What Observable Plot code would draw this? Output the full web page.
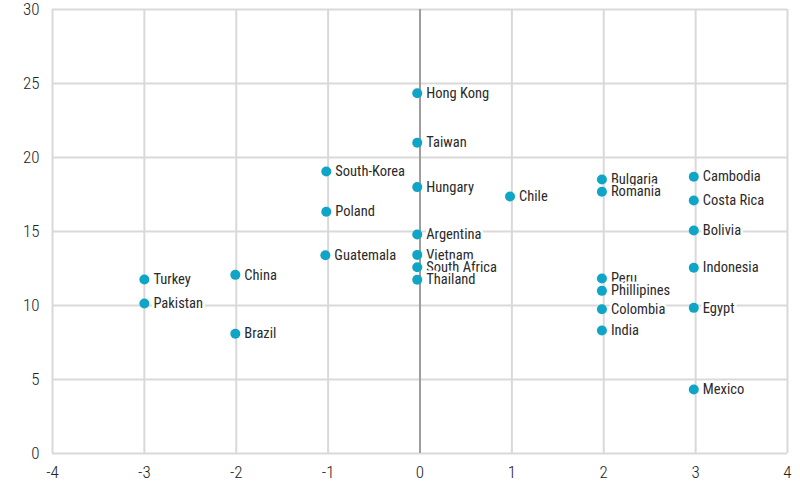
<!DOCTYPE html>
<html>
<head>
<meta charset="utf-8">
<script src="https://cdn.jsdelivr.net/npm/d3@7"></script>
<script src="https://cdn.jsdelivr.net/npm/@observablehq/plot@0.6"></script>
<style>
  html, body { margin: 0; padding: 0; background: #fff; }
  #chart svg { display: block; }
</style>
</head>
<body>
<div id="chart"></div>
<script>
const countries = ["Hong Kong","Taiwan","South-Korea","Hungary","Chile","Bulgaria","Romania","Cambodia","Costa Rica","Poland","Argentina","Bolivia","Guatemala","Vietnam","South Africa","Thailand","Turkey","China","Pakistan","Brazil","Peru","Phillipines","Colombia","India","Indonesia","Egypt","Mexico"];
const xValues = [-0.03,-0.03,-1.02,-0.03,0.98,1.98,1.98,2.98,2.98,-1.02,-0.03,2.98,-1.03,-0.03,-0.03,-0.03,-3,-2.01,-3,-2.01,1.98,1.98,1.98,1.98,2.98,2.98,2.98];
const yValues = [24.34,21.0,19.05,18.0,17.36,18.51,17.68,18.7,17.1,16.33,14.8,15.07,13.4,13.42,12.59,11.74,11.76,12.07,10.14,8.09,11.82,10.99,9.75,8.31,12.55,9.84,4.32];
const xTicks = [-4,-3,-2,-1,0,1,2,3,4];
const xTickLabels = ["-4","-3","-2","-1","0","1","2","3","4"];
const yTicks = [0,5,10,15,20,25,30];
const yTickLabels = ["0","5","10","15","20","25","30"];

const data = countries.map((c, i) => ({name: c, x: xValues[i], y: yValues[i]}));

const font = "'Roboto Condensed', 'Liberation Sans Narrow', Roboto, sans-serif";
const grid = "#d9d9d9";
const dotColor = "#0ea5c6";

const chart = Plot.plot({
  width: 800,
  height: 490,
  marginLeft: 52,
  marginRight: 13,
  marginTop: 9,
  marginBottom: 37,
  style: {fontFamily: font, background: "#fff"},
  x: {domain: [-4, 4]},
  y: {domain: [0, 30]},
  marks: [
    Plot.gridX(xTicks, {stroke: grid, strokeOpacity: 1, strokeWidth: 2}),
    Plot.gridY(yTicks, {stroke: grid, strokeOpacity: 1, strokeWidth: 2}),
    Plot.ruleX([0], {stroke: "#8a8a8a", strokeWidth: 1.5}),
    Plot.axisX({ticks: xTicks, tickFormat: d => xTickLabels[xTicks.indexOf(d)], tickSize: 0, tickPadding: 12, fontSize: 17, fontWeight: 300, fill: "#222", label: null}),
    Plot.axisY({ticks: yTicks, tickFormat: d => yTickLabels[yTicks.indexOf(d)], tickSize: 0, tickPadding: 13, fontSize: 17, fontWeight: 300, fill: "#222", label: null}),
    Plot.text(data, {x: "x", y: "y", text: "name", textAnchor: "start", dx: 9, fontSize: 14.5, fontWeight: 400, fill: "#2a2a2a", stroke: "white", strokeWidth: 5, fontFamily: font}),
    Plot.dot(data, {x: "x", y: "y", r: 5, fill: dotColor, stroke: "none"})
  ]
});
document.getElementById("chart").appendChild(chart);
</script>
</body>
</html>
